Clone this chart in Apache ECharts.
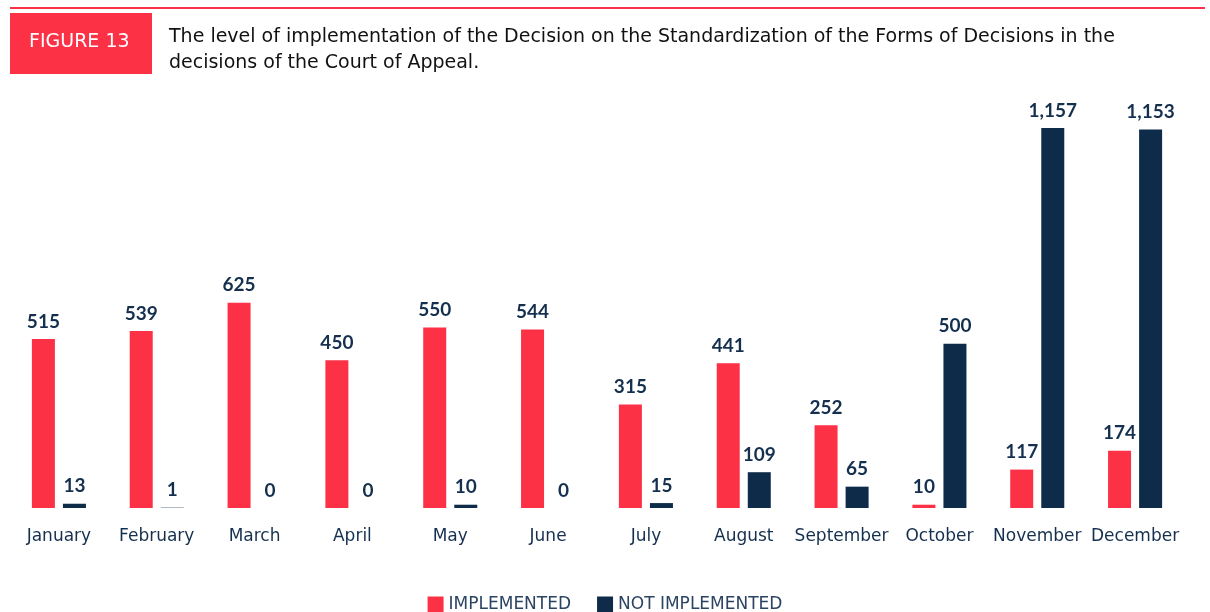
<!DOCTYPE html>
<html>
<head>
<meta charset="utf-8">
<script src="https://cdn.jsdelivr.net/npm/echarts@6/dist/echarts.min.js"></script>
<style>
	html, body { margin: 0; padding: 0; background: #fff; }
	#chart { width: 1210px; height: 612px; }
</style>
</head>
<body>
<div id="chart"></div>
<script>
/*		数据		*/
var months = ['January', 'February', 'March', 'April', 'May', 'June', 'July', 'August', 'September', 'October', 'November', 'December'];
var implemented = [515, 539, 625, 450, 550, 544, 315, 441, 252, 10, 117, 174];
var notImplemented = [13, 1, 0, 0, 10, 0, 15, 109, 65, 500, 1157, 1153];

var RED = '#fd3145';
var NAVY = '#0e2b4a';
var FONT = 'Lato, "Open Sans", sans-serif';
var WIDE = '"DejaVu Sans", sans-serif';

function fmt(p) {
	return Number(p.value).toLocaleString('en-US');
}

var barLabel = {
	show: true,
	position: 'top',
	distance: 8,
	formatter: fmt,
	color: '#15304f',
	fontSize: 19,
	fontWeight: 'bold',
	fontFamily: FONT
};

var option = {
	animation: false,
	backgroundColor: '#fff',
	textStyle: { fontFamily: FONT },
	title: {
		text: 'The level of implementation of the Decision on the Standardization of the Forms of Decisions in the\ndecisions of the Court of Appeal.',
		left: 164,
		top: 19,
		textStyle: {
			fontSize: 19,
			fontWeight: 'normal',
			color: '#111',
			lineHeight: 26,
			fontFamily: WIDE
		}
	},
	graphic: [
		{ type: 'rect', shape: { x: 10, y: 7, width: 1195, height: 2 }, style: { fill: RED } },
		{ type: 'rect', shape: { x: 10, y: 13, width: 142, height: 61 }, style: { fill: RED } },
		{
			type: 'text', left: 29, top: 33,
			style: { text: 'FIGURE 13', fill: '#fff', fontSize: 19, fontFamily: WIDE }
		}
	],
	legend: {
		bottom: -6,
		left: 'center',
		itemWidth: 16,
		itemHeight: 16,
		itemGap: 26,
		icon: 'rect',
		textStyle: { color: '#2c4463', fontSize: 17, fontFamily: WIDE },
		data: ['IMPLEMENTED', 'NOT IMPLEMENTED']
	},
	grid: { left: 10, right: 26, top: 114, bottom: 104 },
	xAxis: {
		type: 'category',
		data: months,
		axisLine: { show: false },
		axisTick: { show: false },
		axisLabel: { color: '#15304f', fontSize: 17, margin: 20, fontFamily: WIDE, interval: 0 }
	},
	yAxis: {
		type: 'value',
		min: 0,
		max: 1200,
		show: false,
		splitLine: { show: false }
	},
	series: [
		{
			name: 'IMPLEMENTED',
			type: 'bar',
			data: implemented,
			barWidth: 23,
			barGap: '35%',
			itemStyle: { color: RED },
			label: barLabel
		},
		{
			name: 'NOT IMPLEMENTED',
			type: 'bar',
			data: notImplemented,
			barWidth: 23,
			itemStyle: { color: NAVY },
			label: barLabel
		}
	]
};

var chart = echarts.init(document.getElementById('chart'));
chart.setOption(option);
</script>
</body>
</html>
